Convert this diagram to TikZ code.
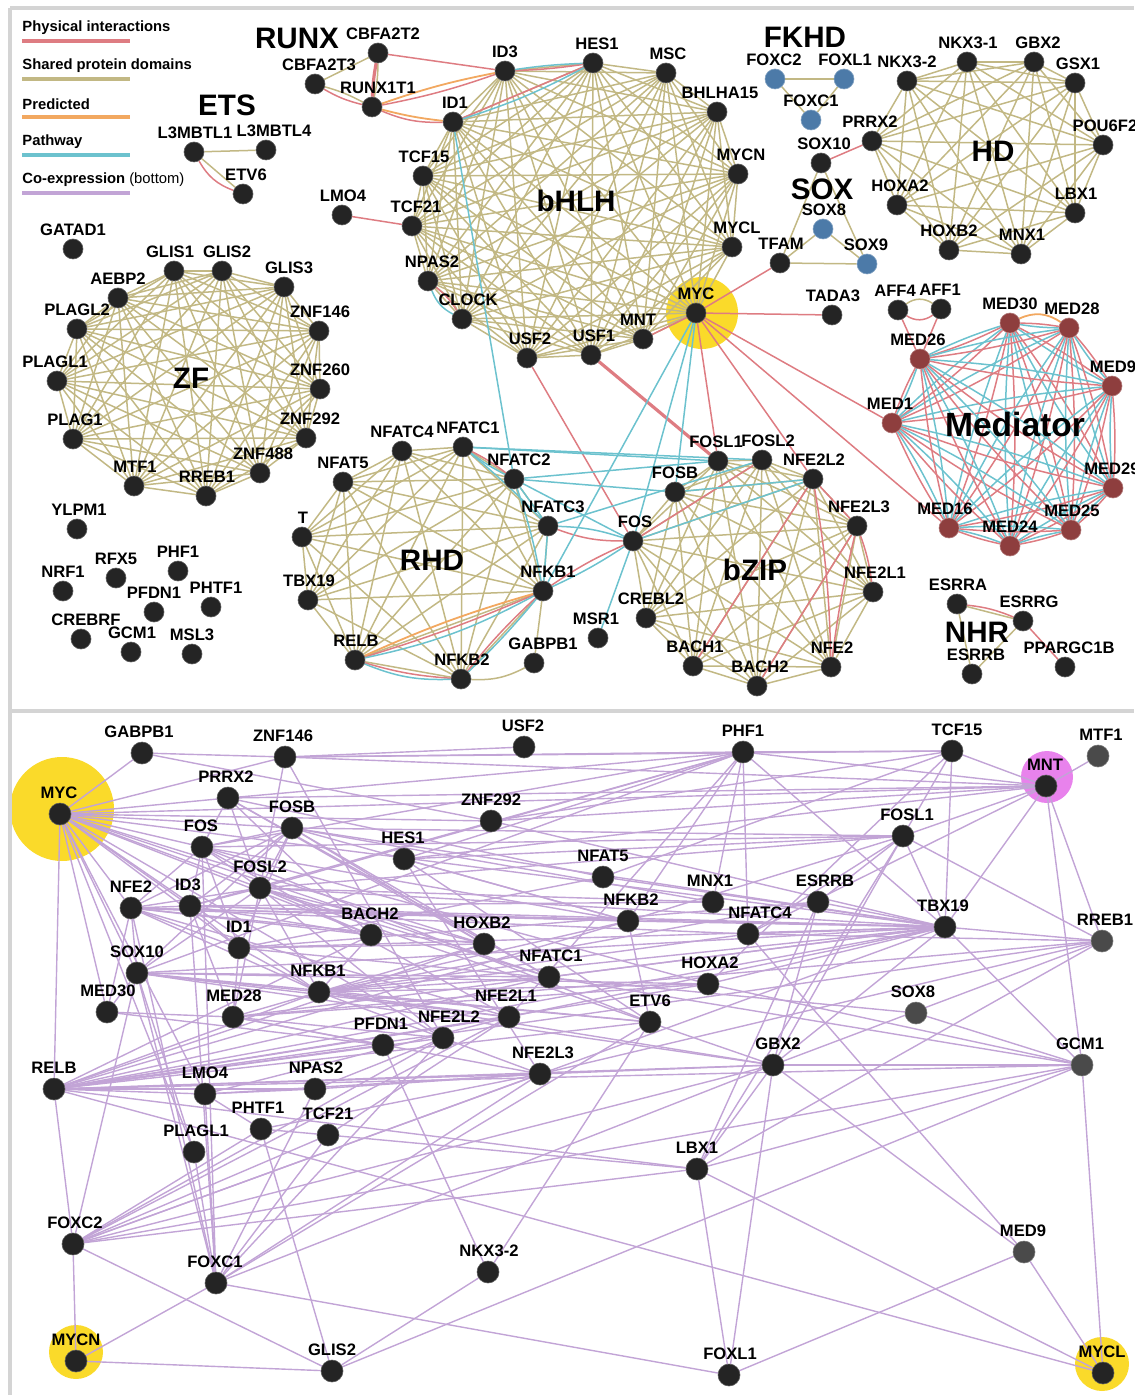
\documentclass[tikz,border=0pt]{standalone}
\usepackage{fontspec}
\setmainfont{Liberation Sans}
\definecolor{physred}{RGB}{222,124,130}
\definecolor{sharedolive}{RGB}{194,184,132}
\definecolor{predorange}{RGB}{242,168,96}
\definecolor{pathteal}{RGB}{108,194,206}
\definecolor{coexppurple}{RGB}{194,164,214}
\definecolor{geneblack}{RGB}{36,36,36}
\definecolor{genegray}{RGB}{74,74,74}
\definecolor{fkhdblue}{RGB}{76,122,168}
\definecolor{medred}{RGB}{142,62,62}
\definecolor{hiyellow}{RGB}{250,218,42}
\definecolor{hipink}{RGB}{232,130,236}
\definecolor{framegray}{RGB}{212,212,212}
\pgfdeclarelayer{hilite}
\pgfdeclarelayer{links}
\pgfsetlayers{hilite,links,main}

\begin{document}
\begin{tikzpicture}[x=0.5pt,y=-0.5pt,
  gene/.style={circle,fill=geneblack,draw=geneblack!75!white,line width=0.3pt,minimum size=10pt,inner sep=0pt},
  bgene/.style={gene,minimum size=11pt},
  ggene/.style={bgene,fill=genegray,draw=genegray!75!white},
  fkhd/.style={gene,fill=fkhdblue,draw=fkhdblue!70!white},
  medi/.style={gene,fill=medred,draw=medred!70!white},
  glab/.style={font=\bfseries\fontsize{8.3}{9}\selectfont,inner sep=0pt},
  fam/.style={font=\bfseries\fontsize{14.8}{16}\selectfont,inner sep=0pt},
  leg/.style={font=\bfseries\fontsize{7.4}{8}\selectfont,inner sep=0pt,anchor=west},
  sharededge/.style={draw=sharedolive,line width=0.75pt},
  physedge/.style={draw=physred,line width=0.75pt},
  prededge/.style={draw=predorange,line width=0.9pt},
  pathedge/.style={draw=pathteal,line width=0.75pt},
  coexpedge/.style={draw=coexppurple,line width=0.7pt},
  frame/.style={draw=framegray,line width=2pt}]

\useasboundingbox (0,0) rectangle (1134,1395);

 %frame
 \draw[frame] (10,8) -- (1134,8);
 \draw[frame] (10,8) -- (10,1395);
 \draw[frame] (10,711) -- (1134,711);

 %legend
 \foreach \y/\c/\t in {28/physred/Physical interactions, 66/sharedolive/Shared protein domains,
     104/predorange/Predicted, 142/pathteal/Pathway, 180/coexppurple/{Co-expression \textmd{(bottom)}}} {
         \node[leg] (leg\c) at (22,\y) {\t};
         \draw[\c, line width=2pt] (22,\y+13) -- (130,\y+13);
 }

 %family names
 \foreach \x/\y/\n in {297/38/RUNX, 227/105/ETS, 805/37/FKHD, 576/201/bHLH, 993/151/HD, 822/189/SOX,
     191/378/ZF, 432/560/RHD, 755/570/bZIP, 977/632/NHR} {
         \node[fam] (fam\n) at (\x,\y) {\n};
 }
 \node[fam, font=\bfseries\fontsize{16.8}{18}\selectfont] (famMediator) at (1015,424) {Mediator};

 %top panel, black genes
 \foreach \x/\y/\n/\d in {505/71/ID3/0, 593/63/HES1/4, 666/73/MSC/2, 717/112/BHLHA15/3, 738/174/MYCN/3,
     732/247/MYCL/5, 696/313/MYC/0, 643/339/MNT/-5, 591/355/USF1/3, 527/358/USF2/3, 462/319/CLOCK/6,
     428/281/NPAS2/4, 412/226/TCF21/4, 423/176/TCF15/1, 453/122/ID1/2,
     378/53/CBFA2T2/5, 315/84/CBFA2T3/4, 372/107/RUNX1T1/6, 194/152/L3MBTL1/1, 266/150/L3MBTL4/8,
     243/194/ETV6/3, 342/215/LMO4/1, 780/263/TFAM/1, 821/163/SOX10/3, 832/315/TADA3/1, 898/310/AFF4/-3,
     941/309/AFF1/-1,
     907/81/NKX3-2/0, 967/62/NKX3-1/1, 1034/62/GBX2/4, 1075/83/GSX1/3, 1103/145/POU6F2/2, 1075/213/LBX1/1,
     1021/254/MNX1/1, 949/250/HOXB2/0, 897/205/HOXA2/3, 872/141/PRRX2/-2,
     174/271/GLIS1/-4, 222/271/GLIS2/5, 284/287/GLIS3/5, 319/331/ZNF146/1, 320/389/ZNF260/0,
     306/438/ZNF292/4, 260/473/ZNF488/3, 206/496/RREB1/1, 134/486/MTF1/1, 73/439/PLAG1/2,
     57/381/PLAGL1/-2, 77/329/PLAGL2/0, 118/298/AEBP2/0,
     73/249/GATAD1/0, 77/529/YLPM1/2, 116/578/RFX5/0, 178/571/PHF1/0, 63/591/NRF1/0, 154/612/PFDN1/0,
     211/607/PHTF1/5, 81/639/CREBRF/5, 131/652/GCM1/1, 192/654/MSL3/0,
     402/451/NFATC4/0, 463/447/NFATC1/5, 514/479/NFATC2/5, 548/526/NFATC3/5, 543/591/NFKB1/5,
     461/679/NFKB2/1, 355/660/RELB/1, 308/600/TBX19/1, 302/537/T/1, 343/482/NFAT5/0, 534/663/GABPB1/9,
     718/461/FOSL1/-2, 762/460/FOSL2/6, 813/479/NFE2L2/1, 675/492/FOSB/0, 633/541/FOS/2,
     857/526/NFE2L3/2, 873/592/NFE2L1/2, 831/667/NFE2/1, 757/686/BACH2/3, 693/666/BACH1/2,
     646/618/CREBL2/5, 598/638/MSR1/-2,
     957/604/ESRRA/1, 1023/621/ESRRG/6, 972/674/ESRRB/4, 1065/667/PPARGC1B/4} {
         \node[gene, label={[glab, label distance=1.5pt, xshift=\d*0.5pt]above:\n}] (t\n) at (\x,\y) {};
 }

 %top panel, FKHD and SOX
 \foreach \x/\y/\n/\d in {775/79/FOXC2/-1, 844/79/FOXL1/1, 811/120/FOXC1/0, 823/229/SOX8/1, 867/264/SOX9/-1} {
         \node[fkhd, label={[glab, label distance=1.5pt, xshift=\d*0.5pt]above:\n}] (t\n) at (\x,\y) {};
 }

 %top panel, Mediator
 \foreach \x/\y/\n/\d in {1010/323/MED30/0, 1069/328/MED28/3, 920/359/MED26/-2, 1112/386/MED9/1,
     892/423/MED1/-2, 1113/488/MED29/-1, 949/528/MED16/-4, 1010/546/MED24/0, 1071/530/MED25/1} {
         \node[medi, label={[glab, label distance=1.5pt, xshift=\d*0.5pt]above:\n}] (t\n) at (\x,\y) {};
 }

 %bottom panel genes
 \foreach \x/\y/\n/\d in {142/753/GABPB1/-3, 285/757/ZNF146/-2, 524/747/USF2/-1, 743/752/PHF1/0,
     952/751/TCF15/5, 60/814/MYC/-1, 228/798/PRRX2/-2, 292/828/FOSB/0, 202/847/FOS/-1,
     491/821/ZNF292/0, 404/859/HES1/-1, 1046/786/MNT/-1, 903/836/FOSL1/4, 131/908/NFE2/0,
     190/906/ID3/-2, 260/888/FOSL2/0, 603/877/NFAT5/0, 713/902/MNX1/-3, 818/902/ESRRB/7,
     628/921/NFKB2/3, 748/934/NFATC4/12, 945/927/TBX19/-2, 371/935/BACH2/-1, 484/944/HOXB2/-2,
     239/948/ID1/0, 137/973/SOX10/0, 549/977/NFATC1/2, 708/984/HOXA2/2, 319/992/NFKB1/-1,
     107/1012/MED30/1, 233/1017/MED28/1, 509/1017/NFE2L1/-3, 650/1022/ETV6/0, 383/1045/PFDN1/-2,
     443/1038/NFE2L2/6, 773/1065/GBX2/5, 54/1089/RELB/0, 540/1074/NFE2L3/3, 205/1094/LMO4/0,
     315/1089/NPAS2/1, 261/1129/PHTF1/-3, 328/1135/TCF21/0, 194/1152/PLAGL1/2, 697/1169/LBX1/0,
     73/1244/FOXC2/2, 216/1283/FOXC1/-1, 488/1272/NKX3-2/1, 76/1361/MYCN/0, 332/1371/GLIS2/0,
     729/1375/FOXL1/1, 1103/1373/MYCL/-1} {
         \node[bgene, label={[glab, label distance=2pt, xshift=\d*0.5pt]above:\n}] (b\n) at (\x,\y) {};
 }
 \foreach \x/\y/\n/\d in {1098/756/MTF1/3, 1102/941/RREB1/3, 916/1013/SOX8/-3, 1082/1065/GCM1/-2,
     1024/1252/MED9/-1} {
         \node[ggene, label={[glab, label distance=2pt, xshift=\d*0.5pt]above:\n}] (b\n) at (\x,\y) {};
 }

 %highlights
 \begin{pgfonlayer}{hilite}
   \fill[hiyellow] (702,313) circle (18pt);
   \fill[hiyellow] (62,809) circle (26pt);
   \fill[hipink] (1047,777) circle (13pt);
   \fill[hiyellow] (76,1352) circle (13.5pt);
   \fill[hiyellow] (1102,1364) circle (13.5pt);
 \end{pgfonlayer}

 \begin{pgfonlayer}{links}
 %shared domains, cliques
 \def\famBHLH{ID3,HES1,MSC,BHLHA15,MYCN,MYCL,MYC,MNT,USF1,USF2,CLOCK,NPAS2,TCF21,TCF15,ID1}
 \def\famHD{NKX3-2,NKX3-1,GBX2,GSX1,POU6F2,LBX1,MNX1,HOXB2,HOXA2,PRRX2}
 \def\famZF{GLIS1,GLIS2,GLIS3,ZNF146,ZNF260,ZNF292,ZNF488,RREB1,MTF1,PLAG1,PLAGL1,PLAGL2,AEBP2}
 \def\famRHD{NFATC4,NFATC1,NFATC2,NFATC3,NFKB1,NFKB2,RELB,TBX19,T,NFAT5}
 \def\famBZIP{FOSL1,FOSL2,NFE2L2,NFE2L3,NFE2L1,NFE2,BACH2,BACH1,CREBL2,FOS,FOSB}
 \def\famMED{MED30,MED28,MED9,MED29,MED25,MED24,MED16,MED1,MED26}
 \foreach \a [count=\i] in \famBHLH {
   \foreach \b [count=\j] in \famBHLH { \ifnum\j>\i \draw[sharededge] (t\a) -- (t\b); \fi }
 }
 \foreach \a [count=\i] in \famHD {
   \foreach \b [count=\j] in \famHD { \ifnum\j>\i \draw[sharededge] (t\a) -- (t\b); \fi }
 }
 \foreach \a [count=\i] in \famZF {
   \foreach \b [count=\j] in \famZF { \ifnum\j>\i \draw[sharededge] (t\a) -- (t\b); \fi }
 }
 \foreach \a [count=\i] in \famRHD {
   \foreach \b [count=\j] in \famRHD { \ifnum\j>\i \draw[sharededge] (t\a) -- (t\b); \fi }
 }
 \foreach \a [count=\i] in \famBZIP {
   \foreach \b [count=\j] in \famBZIP { \ifnum\j>\i \draw[sharededge] (t\a) -- (t\b); \fi }
 }
 \foreach \a/\b/\s in {CBFA2T2/CBFA2T3/0, CBFA2T2/RUNX1T1/6, CBFA2T3/RUNX1T1/6, L3MBTL1/L3MBTL4/0,
     L3MBTL1/ETV6/0, FOXC2/FOXL1/0, FOXC2/FOXC1/0, FOXL1/FOXC1/0, SOX10/TFAM/0, SOX10/SOX9/0,
     TFAM/SOX9/0, SOX8/TFAM/0, SOX8/SOX9/0, AFF4/AFF1/35, ESRRA/ESRRG/0, ESRRA/ESRRB/0,
     ESRRB/ESRRG/0, GABPB1/NFKB1/0, NFKB2/GABPB1/-15} {
         \draw[sharededge] (t\a) to[bend left=\s] (t\b);
 }

 %Mediator complex
 \foreach \a [count=\i] in \famMED {
   \foreach \b [count=\j] in \famMED {
     \ifnum\j>\i
       \draw[physedge] (t\a) to[bend left=4] (t\b);
       \draw[pathedge] (t\a) to[bend right=4] (t\b);
     \fi
   }
 }

 %physical interactions
 \foreach \a/\b/\s in {CBFA2T3/RUNX1T1/-8, CBFA2T2/ID3/0, RUNX1T1/ID3/-4, RUNX1T1/ID1/-12,
     ID3/HES1/-3, ID1/HES1/0, L3MBTL1/ETV6/-20, LMO4/TCF21/0, NPAS2/CLOCK/10, MNT/MYC/0,
     MYC/TFAM/0, MYC/TADA3/0, MYC/MED1/0, MYC/MED16/0, MYC/FOSL1/0, MYC/NFE2L2/0, SOX10/PRRX2/0,
     USF2/FOS/0, AFF4/AFF1/-35, AFF4/MED26/0, AFF1/MED26/0, ESRRA/ESRRG/8, ESRRG/PPARGC1B/0,
     NFATC1/NFATC2/5, RELB/NFKB1/-3, RELB/NFKB2/-6, NFKB2/NFKB1/4, NFATC3/FOS/-10, NFKB1/FOS/5,
     FOS/FOSL2/0, NFE2L2/BACH1/0, NFE2L2/NFE2/4, NFE2L3/NFE2/-3, NFE2L3/BACH2/0, NFE2L2/NFE2L3/0,
     NFE2L3/NFE2L1/6} {
         \draw[physedge] (t\a) to[bend left=\s] (t\b);
 }
 \draw[physedge, line width=1.6pt] (tCBFA2T2) to[bend right=4] (tRUNX1T1);
 \draw[physedge, line width=1.6pt] (tUSF1) -- (tFOSL1);

 %predicted
 \foreach \a/\b/\s in {RUNX1T1/ID3/4, RUNX1T1/ID1/-4, RELB/NFKB1/4, MED30/MED28/30} {
         \draw[prededge] (t\a) to[bend left=\s] (t\b);
 }

 %pathway
 \foreach \a/\b/\s in {ID3/HES1/3, ID1/HES1/-5, ID1/NFATC2/0, NPAS2/CLOCK/-20, MYC/NFKB1/0,
     MYC/FOS/0, MYC/FOSB/0, NFATC1/NFATC2/-5, NFATC1/NFATC3/3, NFATC2/NFATC3/0, NFATC3/NFKB1/0,
     NFATC2/NFKB1/4, RELB/NFKB1/-8, RELB/NFKB2/-12, NFKB2/NFKB1/-3, NFATC1/FOSL1/0,
     NFATC1/FOSL2/0, NFATC2/FOSL1/0, NFATC2/FOSB/0, NFATC3/FOSL2/0, NFATC3/FOS/8, NFKB1/FOS/-4,
     NFATC2/FOS/0, FOS/MSR1/0, FOS/NFE2L2/0, FOSB/NFE2L2/0} {
         \draw[pathedge] (t\a) to[bend left=\s] (t\b);
 }

 %co-expression
 \foreach \a/\b in {MYC/GABPB1, MYC/ZNF146, MYC/PRRX2, MYC/FOSB, MYC/FOS, MYC/MNT, MYC/ZNF292,
     MYC/FOSL2, MYC/ID3, MYC/NFE2, MYC/ID1, MYC/SOX10, MYC/MED30, MYC/NFKB1, MYC/BACH2, MYC/LMO4,
     MYC/PLAGL1, MYC/RELB, MYC/NFATC1, MYC/TBX19, MYC/HOXB2, MYC/NFE2L2,
     GABPB1/ZNF146, GABPB1/ZNF292, ZNF146/USF2, ZNF146/PHF1, ZNF146/MNT, ZNF146/FOSL2,
     ZNF146/NFE2L2, ZNF146/TCF15,
     PHF1/TCF15, PHF1/MNT, PHF1/PRRX2, PHF1/HES1, PHF1/FOSL2, PHF1/ID3, PHF1/SOX10, PHF1/NFKB2,
     PHF1/MNX1, PHF1/NFATC4, PHF1/NFE2L1, PHF1/TBX19, PHF1/FOS,
     TCF15/MNT, TCF15/FOSL1, TCF15/TBX19, TCF15/NFAT5, TCF15/HOXA2, TCF15/ZNF292, MTF1/MNT,
     MNT/FOSL1, MNT/TBX19, MNT/RREB1, MNT/GCM1, MNT/ZNF292, MNT/PRRX2, MNT/NFATC4, MNT/HES1,
     PRRX2/FOS, PRRX2/FOSL2, PRRX2/BACH2, PRRX2/NFAT5, PRRX2/HOXB2, PRRX2/NFATC1} {
         \draw[coexpedge] (b\a) -- (b\b);
 }
 \foreach \a/\b in {FOSB/FOS, FOSB/FOSL2, FOSB/ID3, FOSB/NFE2, FOSB/SOX10, FOSB/NFATC1, FOSB/HOXB2,
     FOSB/FOSL1, FOSB/TBX19, FOSB/MNX1, FOSB/NFKB2, FOSB/ID1,
     FOS/FOSL2, FOS/NFE2, FOS/ID3, FOS/ID1, FOS/FOSL1, FOS/NFKB2, FOS/HOXA2, FOS/ETV6, FOS/NFE2L1,
     FOS/FOXC1,
     FOSL2/NFE2, FOSL2/ID3, FOSL2/SOX10, FOSL2/MED28, FOSL2/NFKB1, FOSL2/BACH2, FOSL2/NFATC1,
     FOSL2/HOXB2, FOSL2/TBX19, FOSL2/FOSL1, FOSL2/NFE2L2, FOSL2/GBX2, FOSL2/MNX1,
     NFE2/ID3, NFE2/SOX10, NFE2/MED30, NFE2/NFKB1, NFE2/ID1, NFE2/TBX19, NFE2/NFATC4, NFE2/HOXB2,
     NFE2/BACH2, NFE2/NFE2L1, NFE2/NFKB2, NFE2/FOXC1,
     ID3/ID1, ID3/BACH2, ID3/NFKB2, ID3/TBX19, ID3/FOXC1, ID3/MED28, ID3/MNX1,
     ID1/MED28, ID1/NFKB1, ID1/HOXB2, ID1/TBX19, ID1/ESRRB, ID1/NFAT5, ID1/SOX8} {
         \draw[coexpedge] (b\a) -- (b\b);
 }
 \foreach \a/\b in {SOX10/MED30, SOX10/NFKB1, SOX10/NFE2L1, SOX10/ETV6, SOX10/NFATC1, SOX10/HOXA2,
     SOX10/TBX19, SOX10/FOXC2, SOX10/FOXC1, SOX10/PLAGL1, SOX10/GBX2, MED30/MED28, MED30/PFDN1,
     MED28/NFKB1, MED28/PFDN1, MED28/NFE2L2, MED28/TBX19, MED28/NFE2L3, MED28/HOXA2, MED28/RREB1,
     NFKB1/BACH2, NFKB1/NFATC1, NFKB1/HOXB2, NFKB1/NFKB2, NFKB1/HOXA2, NFKB1/NFE2L1, NFKB1/ETV6,
     NFKB1/TBX19, NFKB1/ESRRB, NFKB1/RELB, NFKB1/GBX2, NFKB1/NFE2L3, NFKB1/NFATC4,
     RELB/FOXC2, RELB/NFKB2, RELB/NFATC1, RELB/NFE2L1, RELB/NFE2L2, RELB/NFE2L3, RELB/PFDN1,
     RELB/LMO4, RELB/NPAS2, RELB/ETV6, RELB/HOXA2, RELB/TBX19, RELB/GBX2, RELB/GCM1, RELB/BACH2,
     RELB/HOXB2, RELB/MYCL, RELB/LBX1, RELB/RREB1} {
         \draw[coexpedge] (b\a) -- (b\b);
 }
 \foreach \a/\b in {LMO4/NPAS2, LMO4/NFE2L3, LMO4/PHTF1, LMO4/FOXC1, LMO4/NFE2L1,
     NPAS2/NFE2L3, NPAS2/NFE2L2, NPAS2/FOXC1, PHTF1/TCF21, PHTF1/GLIS2, PHTF1/FOXC2, PHTF1/NFE2L3,
     TCF21/FOXC2, TCF21/FOXC1, TCF21/LBX1, TCF21/NFE2L1, PLAGL1/FOXC1,
     FOXC2/MYCN, FOXC2/GLIS2, FOXC2/NFE2L1, FOXC2/NFE2L2, FOXC2/NFE2L3, FOXC2/GBX2, FOXC2/GCM1,
     FOXC2/LBX1, FOXC2/TBX19,
     FOXC1/MYCN, FOXC1/FOXL1, FOXC1/NFE2L2, FOXC1/NFE2L3, FOXC1/ETV6, FOXC1/GBX2,
     MYCN/GLIS2, GLIS2/NKX3-2, GLIS2/GCM1, NKX3-2/PFDN1, NKX3-2/ETV6,
     LBX1/GBX2, LBX1/FOXL1, LBX1/MYCL, LBX1/GCM1, LBX1/ESRRB, LBX1/RREB1, LBX1/FOSL1,
     GBX2/FOXL1, GBX2/MED9, GBX2/GCM1, GBX2/ESRRB, GBX2/TBX19, GBX2/FOSL1, GBX2/NFE2L3,
     MED9/MYCL, MED9/FOXL1, MED9/NFATC4, MYCL/GCM1,
     GCM1/TBX19, GCM1/SOX8, GCM1/HOXA2, GCM1/NFATC1,
     TBX19/FOSL1, TBX19/RREB1, TBX19/ESRRB, TBX19/NFATC4, TBX19/NFKB2, TBX19/HOXA2, TBX19/NFATC1,
     TBX19/NFE2L1, TBX19/ZNF292, TBX19/NFAT5,
     RREB1/FOSL1, RREB1/NFATC4, RREB1/GBX2, RREB1/NFE2L3,
     FOSL1/ESRRB, FOSL1/HES1, FOSL1/NFKB2, FOSL1/NFATC4,
     HES1/NFKB2, HES1/ETV6, HES1/NFE2L3, NFKB2/ETV6} {
         \draw[coexpedge] (b\a) -- (b\b);
 }
 \end{pgfonlayer}

\end{tikzpicture}
\end{document}
